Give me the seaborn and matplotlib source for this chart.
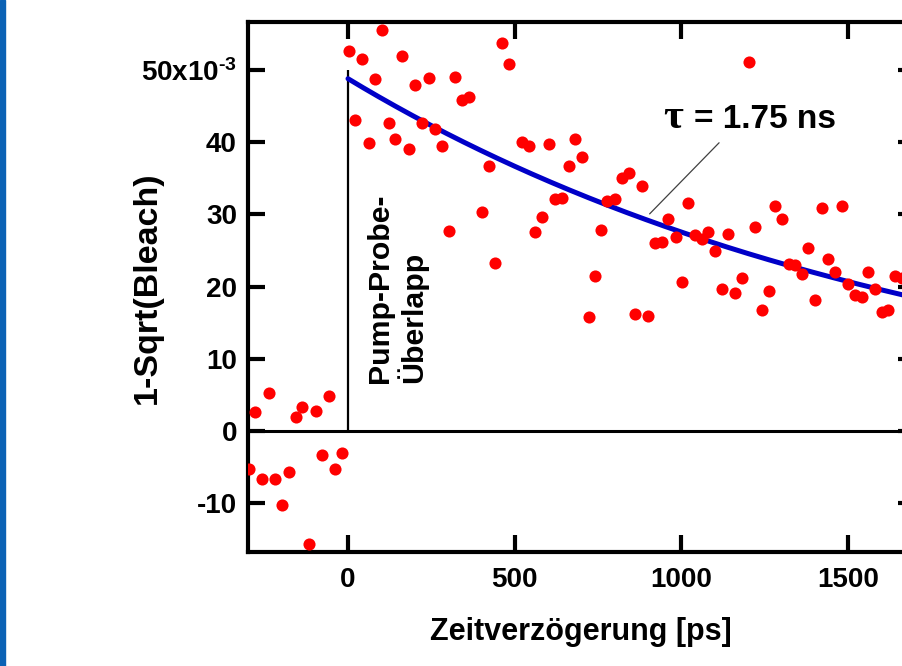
import numpy as np
import pandas as pd
import matplotlib
matplotlib.use("Agg")
import matplotlib.pyplot as plt
import seaborn as sns
from matplotlib.patches import Rectangle

# ---------------- data (delay in ps, signal in units of 1e-3) ----------------
delay_ps = [
    -279, -237, -157, -138, -97, -58, -297, -258, -218, -178, -199, -118, -77, -38, -17,
    2, 102, 42, 162, 82, 202, 242, 322, 342, 362, 462, 482, 22, 122, 62, 142, 182, 222,
    262, 282, 422, 522, 542, 602, 682, 702, 662, 622, 642, 402, 302, 582, 562, 758, 442,
    742, 722,
    1202, 821, 843, 882, 801, 776, 1020, 961, 983, 922, 943, 1041, 1081, 1141, 1221, 1281,
    1301, 1421, 1481, 1061, 1101, 1381, 1441, 1322, 1342, 1362, 1462, 1561, 1641, 1661,
    1501, 1521, 1543, 1581, 1601, 1621, 1401, 1181, 1121, 1161, 1262, 1241, 1001, 861, 901,
]
signal_milli = [
    2.7, 5.3, 1.9, 3.3, 2.8, 4.9, -5.2, -6.6, -6.7, -5.7, -10.3, -15.6, -3.3, -5.2, -3.1,
    52.7, 55.5, 51.5, 51.9, 48.8, 47.9, 48.9, 49.1, 45.9, 46.3, 53.7, 50.8, 43.1, 42.6, 39.9,
    40.4, 39.1, 42.7, 41.9, 39.5, 36.7, 40.0, 39.5, 39.8, 40.4, 37.9, 36.7, 32.2, 32.3, 30.4,
    27.7, 29.6, 27.5, 27.9, 23.3, 21.5, 15.8,
    51.1, 35.1, 35.7, 33.9, 32.1, 31.8, 31.6, 29.4, 26.9, 26.0, 26.2, 27.2, 27.5, 27.3, 28.2,
    31.1, 29.4, 30.9, 31.1, 26.6, 25.0, 25.3, 23.8, 23.2, 23.0, 21.7, 22.0, 22.0, 21.5, 21.2,
    20.4, 18.8, 18.6, 19.7, 16.5, 16.8, 18.2, 21.2, 19.7, 19.1, 19.4, 16.8, 20.6, 16.2, 16.0,
]

# exponential fit parameters
fit_amp_milli = 48.8
fit_tau_ps = 1750.0
fit_t_end = 1700

xticks = [0, 500, 1000, 1500]
yticks_milli = [-10, 0, 10, 20, 30, 40, 50]
ytick_labels = ["-10", "0", "10", "20", "30", "40", r"50x10$^{\text{-3}}$"]

df = pd.DataFrame({"delay": delay_ps, "signal": np.array(signal_milli) * 1e-3})
t_fit = np.linspace(0, fit_t_end, 300)
fit_df = pd.DataFrame({"delay": t_fit,
                       "signal": fit_amp_milli * 1e-3 * np.exp(-t_fit / fit_tau_ps)})

# ---------------- style ----------------
sns.set_theme(style="ticks")
plt.rcParams['font.family'] = ['Liberation Sans', 'DejaVu Sans']
plt.rcParams['font.weight'] = 'bold'
plt.rcParams['mathtext.fontset'] = 'custom'
plt.rcParams['mathtext.rm'] = 'Liberation Sans:bold'
plt.rcParams['mathtext.default'] = 'rm'

W, H = 903, 666
fig = plt.figure(figsize=(W / 100, H / 100), dpi=100)
fig.patch.set_facecolor('white')


def px_axes(l, t, r, b):
    return [l / W, 1 - b / H, (r - l) / W, (b - t) / H]


ax = fig.add_axes(px_axes(248, 22, 914.7, 552))
ax.set_facecolor('white')

# zero line and pump-probe overlap marker
ax.axhline(0, color='black', lw=2.2, zorder=1)
ax.vlines(0, 0, 50e-3, color='black', lw=1.6, zorder=1)

sns.lineplot(data=fit_df, x="delay", y="signal", color='#0000c8', lw=3.6, ax=ax, zorder=2)
sns.scatterplot(data=df, x="delay", y="signal", color='#ff0000', s=76, linewidth=0,
                ax=ax, zorder=3)

ax.set_xlim(-300, 1700)
ax.set_ylim(-16.75e-3, 56.65e-3)

ax.set_xticks(xticks)
ax.set_xticklabels([str(v) for v in xticks])
ax.set_yticks(np.array(yticks_milli) * 1e-3)
ax.set_yticklabels(ytick_labels)

for s in ax.spines.values():
    s.set_linewidth(3)
    s.set_color('black')
    s.set_visible(True)

ax.tick_params(axis='both', direction='in', length=12, width=3, color='black',
               top=True, right=True, labelsize=20, labelcolor='black')
ax.tick_params(axis='y', pad=8)
ax.tick_params(axis='x', pad=11)
for lab in ax.get_xticklabels() + ax.get_yticklabels():
    lab.set_fontweight('bold')

ax.set_xlabel('Zeitverzögerung [ps]', fontsize=22, fontweight='bold', color='black', va='center')
ax.set_ylabel('1-Sqrt(Bleach)', fontsize=24.5, fontweight='bold', color='black', va='center')
ax.xaxis.set_label_coords(0.4995, -0.151)
ax.yaxis.set_label_coords(-0.1515, 0.498)

# annotations
ax.text(54, 6.6e-3, 'Pump-Probe-\nÜberlapp', rotation=90, ha='left', va='bottom',
        fontsize=21.8, fontweight='bold', color='black', linespacing=1.1)

ax.text(1004, 42.0e-3, 'τ', family=['Liberation Serif', 'DejaVu Serif'], fontweight='bold',
        fontsize=31, ha='right', va='baseline', color='black')
ax.text(1038, 42.0e-3, '= 1.75 ns', fontsize=24, fontweight='bold', ha='left',
        va='baseline', color='black')
ax.annotate('', xy=(899, 29.8e-3), xytext=(1119, 40.2e-3),
            arrowprops=dict(arrowstyle='-', lw=0.9, color='#404040'))

# blue bar at the left edge
fig.patches.append(Rectangle((0, 0), 5 / W, 1, transform=fig.transFigure,
                             color='#0b62b5', zorder=0))

fig.savefig('out.png', dpi=100)
